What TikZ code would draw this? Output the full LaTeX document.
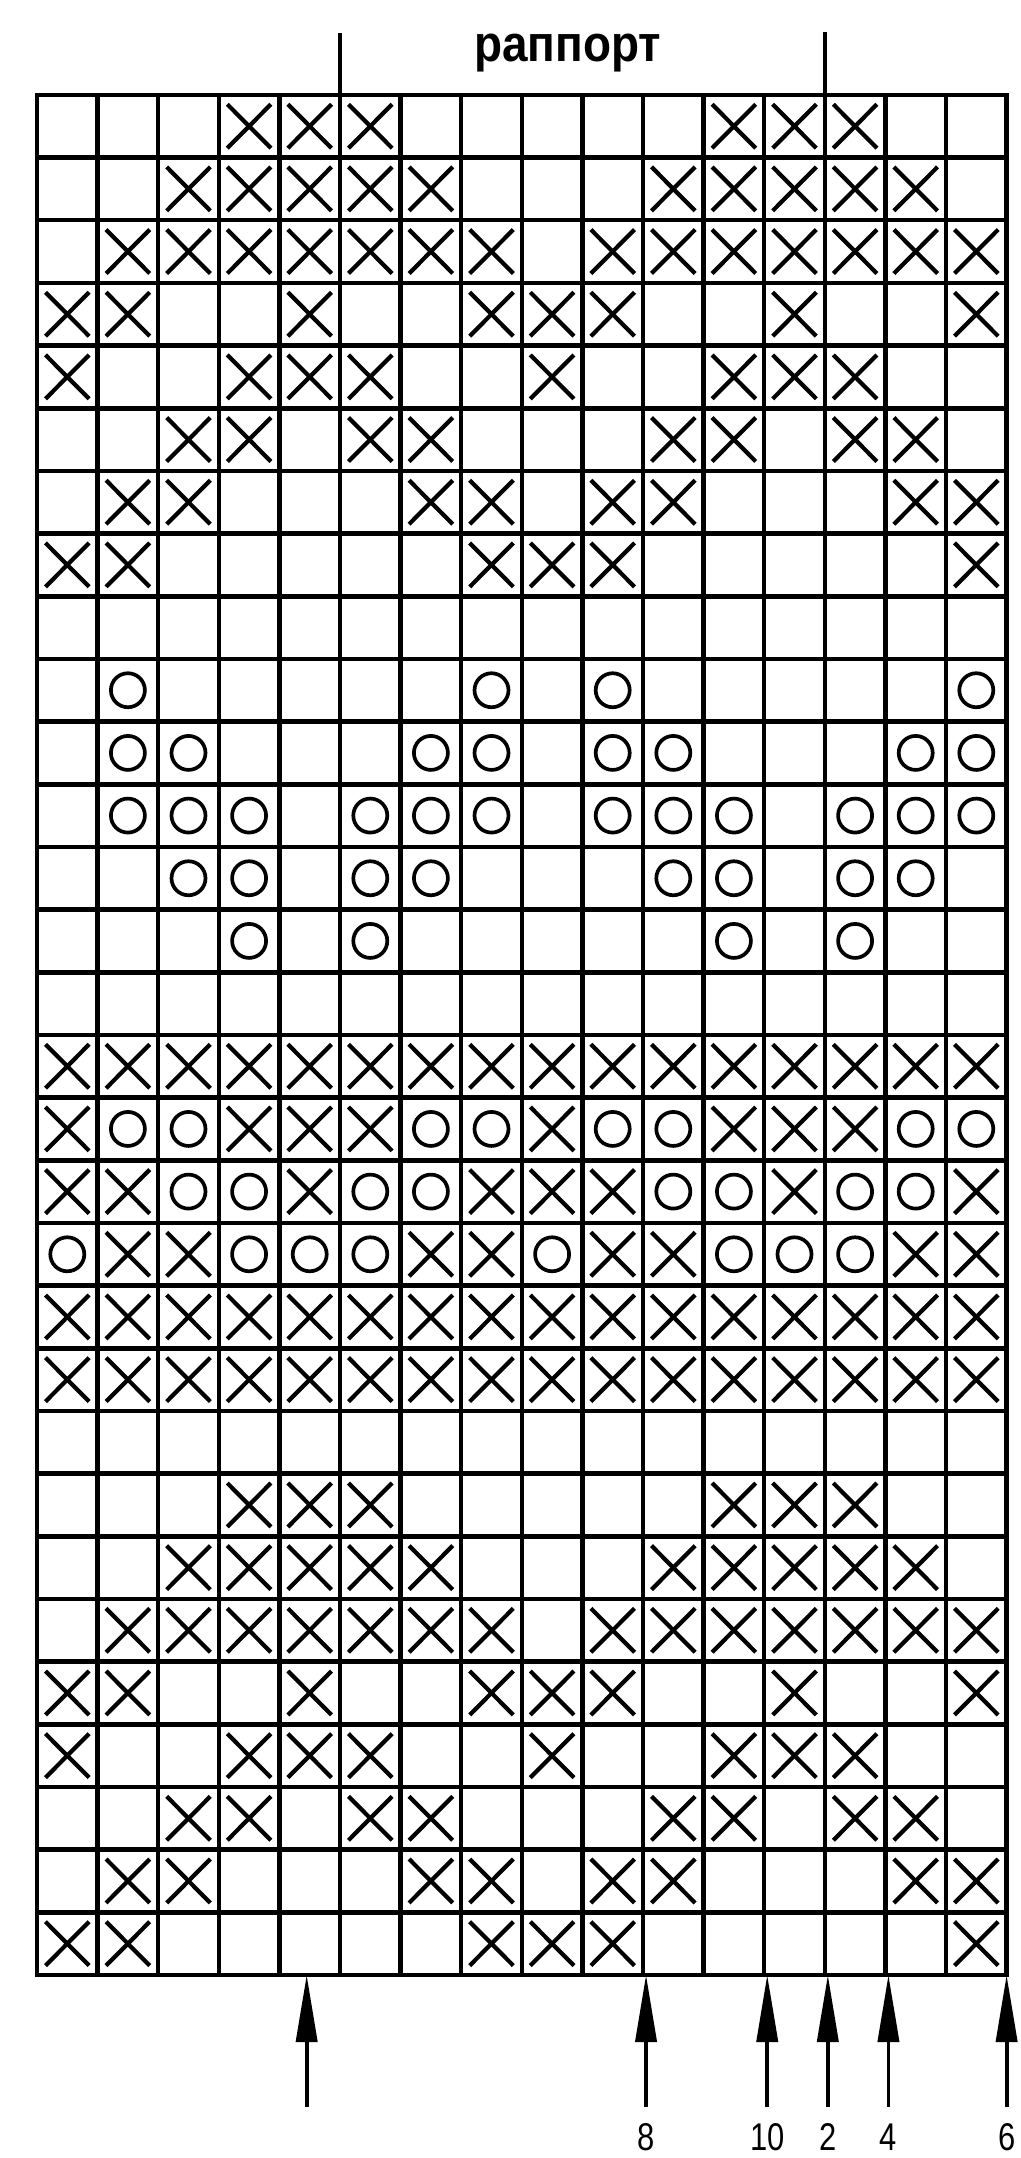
\documentclass[tikz,border=0pt]{standalone}
\usepackage{fontspec}
\setmainfont{Liberation Sans}
\newfontfamily\titelschrift[FakeStretch=0.9]{Liberation Sans}
\newfontfamily\zifferschrift[FakeStretch=0.8]{Liberation Sans}
\usetikzlibrary{arrows.meta}

\def\punkt#1#2{ ({1.212*(#1)},{1.2534*(#2)}) }
% Kaestchen: Spalte #1 (1..16), Reihe #2 von oben (1..30)
\def\kreuz#1#2{
	\draw[kreuzlinie] \punkt{#1-0.86}{30.15-(#2)} -- \punkt{#1-0.14}{30.85-(#2)};
	\draw[kreuzlinie] \punkt{#1-0.86}{30.85-(#2)} -- \punkt{#1-0.14}{30.15-(#2)};
}
\def\kreis#1#2{
	\draw[kreislinie] \punkt{#1-0.5}{30.5-(#2)} circle[radius=0.34];
}
\def\kreuze#1#2{
	\foreach \spalte in {#2}{
		\kreuz{\spalte}{#1}
		\kreuz{\spalte+8}{#1}
	}
}
\def\kreise#1#2{
	\foreach \spalte in {#2}{
		\kreis{\spalte}{#1}
		\kreis{\spalte+8}{#1}
	}
}
\def\motiv#1{
	\kreuze{#1+1}{4,5,6}
	\kreuze{#1+2}{3,4,5,6,7}
	\kreuze{#1+3}{2,3,4,5,6,7,8}
	\kreuze{#1+4}{1,2,5,8}
	\kreuze{#1+5}{1,4,5,6}
	\kreuze{#1+6}{3,4,6,7}
	\kreuze{#1+7}{2,3,7,8}
	\kreuze{#1+8}{1,2,8}
}
\def\feld{
	\foreach \i in {1,...,15}{
		\draw[gitter] \punkt{\i}{0} -- \punkt{\i}{30};
	}
	\foreach \j in {1,...,29}{
		\draw[gitter] \punkt{0}{\j} -- \punkt{16}{\j};
	}
	\draw[gitter] \punkt{0}{0} rectangle \punkt{16}{30};
}
\def\pfeil#1#2{
	\path \punkt{#1}{-2.106} coordinate (fuss#2);
	\path \punkt{#1}{0} coordinate (spitze#2);
	\draw[pfeil] (fuss#2) -- (spitze#2);
	\path \punkt{#1}{-2.80} node[ziffer] (zahl#2) {#2};
}

\begin{document}
\begin{tikzpicture}[
	>={Triangle[length=1.34cm,width=0.42cm]},
	gitter/.style={line width=2.6pt},
	kreuzlinie/.style={line width=2.4pt},
	kreislinie/.style={line width=2.1pt},
	pfeil/.style={->,line width=2.2pt},
	ziffer/.style={anchor=base,inner sep=0pt,font=\zifferschrift\fontsize{22}{22}\selectfont}
]
\useasboundingbox (-0.74,-3.66) rectangle (19.68,39.5);
\feld
\motiv{0}
\kreise{10}{2,8}
\kreise{11}{2,3,7,8}
\kreise{12}{2,3,4,6,7,8}
\kreise{13}{3,4,6,7}
\kreise{14}{4,6}
\kreuze{16}{1,...,8}
\kreuze{17}{1,4,5,6}
\kreise{17}{2,3,7,8}
\kreuze{18}{1,2,5,8}
\kreise{18}{3,4,6,7}
\kreuze{19}{2,3,7,8}
\kreise{19}{1,4,5,6}
\kreuze{20}{1,...,8}
\kreuze{21}{1,...,8}
\motiv{22}
% rapport
\path \punkt{5}{30.99} coordinate (rapportlinks);
\path \punkt{13}{31.01} coordinate (rapportrechts);
\draw[gitter] \punkt{5}{30} -- (rapportlinks);
\draw[gitter] \punkt{13}{30} -- (rapportrechts);
\path \punkt{8.76}{30.53} node[anchor=base,inner sep=0pt,font=\titelschrift\bfseries\fontsize{29}{29}\selectfont] (rapport) {раппорт};
% pfeile unten
\path \punkt{4.45}{-2.106} coordinate (fuss0);
\path \punkt{4.45}{0} coordinate (spitze0);
\draw[pfeil] (fuss0) -- (spitze0);
\pfeil{10.05}{8}
\pfeil{12.05}{10}
\pfeil{13.05}{2}
\pfeil{14.05}{4}
\pfeil{16.0}{6}
\end{tikzpicture}
\end{document}
